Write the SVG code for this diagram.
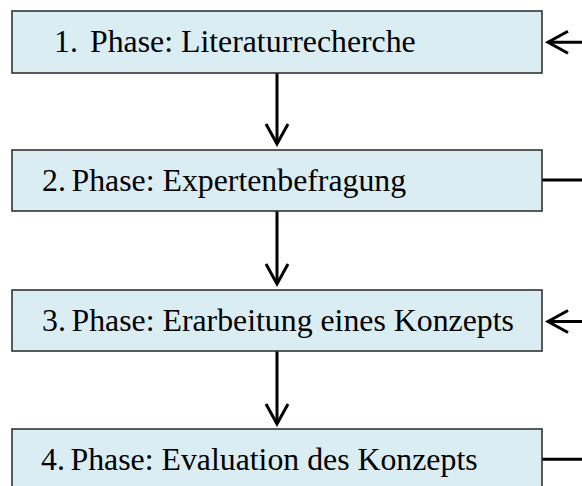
<svg xmlns="http://www.w3.org/2000/svg" width="582" height="486" viewBox="0 0 582 486">
  <defs>
    <style>
      .box { fill: #DAEDF3; stroke: #333333; stroke-width: 1.6; }
      .lbl { font-family: "Liberation Serif", "Times New Roman", serif; font-size: 31.8px; fill: #000000; }
      .con { fill: none; stroke: #000000; stroke-width: 3; }
      .head { fill: none; stroke: #000000; stroke-width: 3; stroke-linejoin: miter; stroke-linecap: butt; }
    </style>
    <marker id="arr" markerUnits="userSpaceOnUse" viewBox="-25 -15 30 30" refX="0" refY="0" markerWidth="30" markerHeight="30" orient="auto" overflow="visible">
      <path class="head" d="M -20 -11 L 0 0 L -20 11"/>
    </marker>
  </defs>
  <rect width="582" height="486" fill="#ffffff"/>

  <g id="connectors">
    <path class="con" d="M 277 73 L 277 144" marker-end="url(#arr)"/>
    <path class="con" d="M 277 211 L 277 284" marker-end="url(#arr)"/>
    <path class="con" d="M 277 351 L 277 424" marker-end="url(#arr)"/>
    <path class="con" d="M 582 42.3 L 548 42.3" marker-end="url(#arr)"/>
    <path class="con" d="M 542 180 L 582 180"/>
    <path class="con" d="M 582 321.5 L 548 321.5" marker-end="url(#arr)"/>
    <path class="con" d="M 542 459.3 L 582 459.3"/>
  </g>

  <g id="phase1">
    <rect class="box" x="12" y="11" width="530" height="62"/>
    <text class="lbl" x="54" y="52.3">1.</text>
    <text class="lbl" x="90" y="52.3">Phase: Literaturrecherche</text>
  </g>
  <g id="phase2">
    <rect class="box" x="12" y="150" width="530" height="61"/>
    <text class="lbl" x="42" y="190.5">2.</text>
    <text class="lbl" x="71.5" y="190.5">Phase: Expertenbefragung</text>
  </g>
  <g id="phase3">
    <rect class="box" x="12" y="290" width="530" height="61"/>
    <text class="lbl" x="42" y="330.5">3.</text>
    <text class="lbl" x="71.5" y="330.5">Phase: Erarbeitung eines Konzepts</text>
  </g>
  <g id="phase4">
    <rect class="box" x="12" y="429" width="530" height="62"/>
    <text class="lbl" x="41" y="470">4.</text>
    <text class="lbl" x="70.5" y="470">Phase: Evaluation des Konzepts</text>
  </g>
</svg>
